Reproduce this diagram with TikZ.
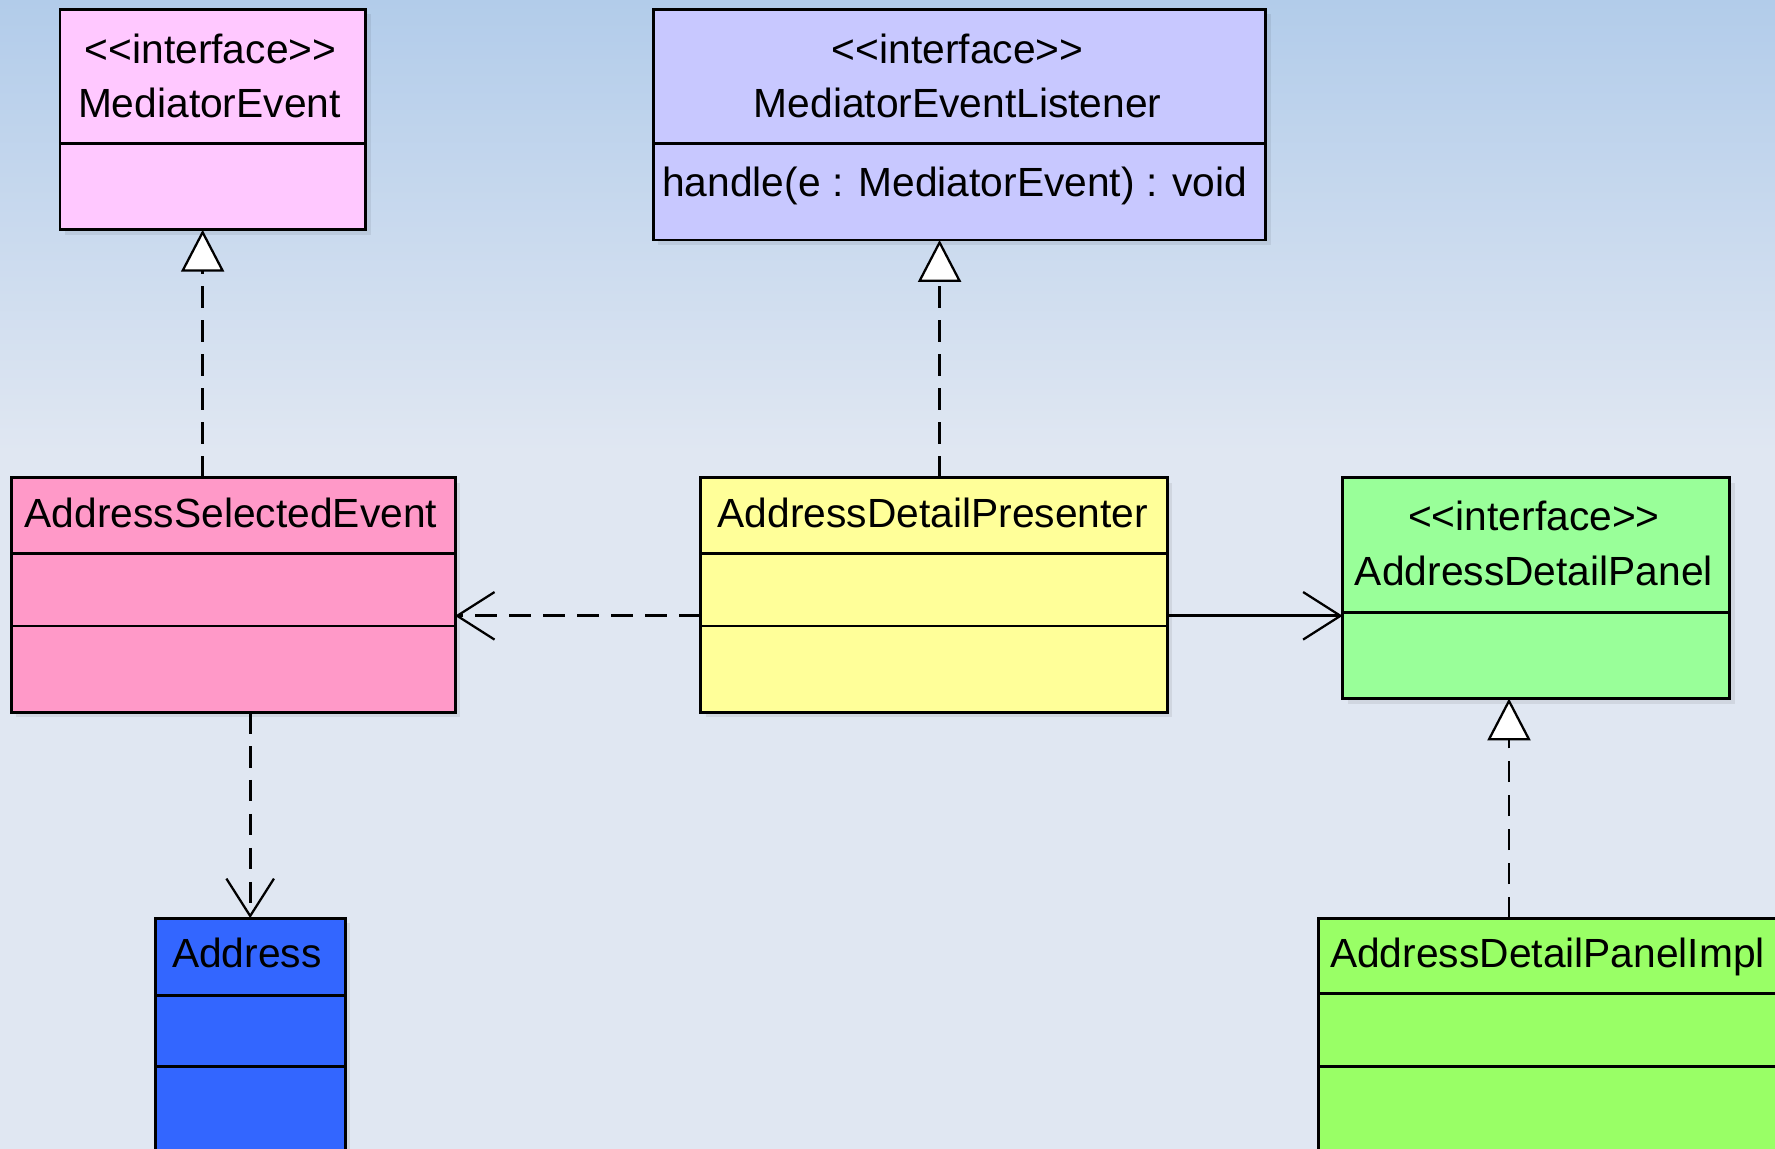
\documentclass[tikz,border=0pt]{standalone}
\usepackage{fontspec}
\setmainfont{Liberation Sans}[Ligatures=TeXOff]
\usetikzlibrary{arrows.meta,calc,shadows}

\definecolor{bgtop}{RGB}{178,204,234}
\definecolor{bgbot}{RGB}{224,231,242}
\definecolor{cMedEvt}{RGB}{255,200,255}
\definecolor{cMedLst}{RGB}{200,200,255}
\definecolor{cSelEvt}{RGB}{255,153,200}
\definecolor{cPresenter}{RGB}{255,255,153}
\definecolor{cPanel}{RGB}{153,255,153}
\definecolor{cAddress}{RGB}{51,102,255}
\definecolor{cImpl}{RGB}{153,255,102}

\tikzset{
  umlbox/.style={draw=black, line width=2.6pt, anchor=north west,
    inner sep=0pt, outer sep=0pt,
    drop shadow={shadow xshift=4.5pt, shadow yshift=-4.5pt, fill=black, opacity=0.07}},
  divider/.style={draw=black, line width=2.6pt},
  txt/.style={inner sep=0pt, outer sep=0pt, anchor=base},
  dashpat/.style={line width=2.4pt, dash pattern=on 19pt off 11pt},
  realize/.style={dashpat, -{Triangle[length=37pt, width=38pt, fill=white, line width=2pt]}},
  depend/.style={dashpat, -{Straight Barb[length=33pt, width=42pt, line width=2pt]}},
  assoc/.style={line width=2.4pt, -{Straight Barb[length=33pt, width=42pt, line width=2pt]}}
}

\begin{document}
\begin{tikzpicture}[x=1pt, y=-1pt, font=\fontsize{36}{43}\selectfont]
  % canvas and background
  \clip (0,0) rectangle (1568,1015);
  \shade[top color=bgtop, bottom color=bgbot] (0,0) rectangle (1568,400);
  \fill[bgbot] (0,399) rectangle (1568,1015);

  % class boxes
  \node[umlbox, fill=cMedEvt, minimum width=270pt, minimum height=195pt] (me) at (53,8) {};
  \node[umlbox, fill=cMedLst, minimum width=541pt, minimum height=204pt] (mel) at (577,8) {};
  \node[umlbox, fill=cSelEvt, minimum width=392pt, minimum height=207pt] (ase) at (10,422) {};
  \node[umlbox, fill=cPresenter, minimum width=412pt, minimum height=207pt] (adp) at (619,422) {};
  \node[umlbox, fill=cPanel, minimum width=342pt, minimum height=195pt] (pnl) at (1186,422) {};
  \node[umlbox, fill=cAddress, minimum width=168pt, minimum height=260pt] (addr) at (137,811) {};
  \node[umlbox, fill=cImpl, minimum width=450pt, minimum height=260pt] (impl) at (1165,811) {};

  % compartment separators
  \draw[divider] ($(me.north west)+(0,119)$) -- ($(me.north east)+(0,119)$);
  \draw[divider] ($(mel.north west)+(0,119)$) -- ($(mel.north east)+(0,119)$);
  \draw[divider] ($(ase.north west)+(0,67)$) -- ($(ase.north east)+(0,67)$);
  \draw[divider] ($(ase.north west)+(0,131)$) -- ($(ase.north east)+(0,131)$);
  \draw[divider] ($(adp.north west)+(0,67)$) -- ($(adp.north east)+(0,67)$);
  \draw[divider] ($(adp.north west)+(0,131)$) -- ($(adp.north east)+(0,131)$);
  \draw[divider] ($(pnl.north west)+(0,119)$) -- ($(pnl.north east)+(0,119)$);
  \draw[divider] ($(addr.north west)+(0,68)$) -- ($(addr.north east)+(0,68)$);
  \draw[divider] ($(addr.north west)+(0,131)$) -- ($(addr.north east)+(0,131)$);
  \draw[divider] ($(impl.north west)+(0,67)$) -- ($(impl.north east)+(0,67)$);
  \draw[divider] ($(impl.north west)+(0,131)$) -- ($(impl.north east)+(0,131)$);

  % class texts
  \node[txt] (me-st) at (186,56) {<<interface>>};
  \node[txt] (me-nm) at (185,104) {MediatorEvent};
  \node[txt] (mel-st) at (846,56) {<<interface>>};
  \node[txt] (mel-nm) at (846,104) {MediatorEventListener};
  \node[txt, anchor=base west] (mel-op) at (585,174) {handle(e : MediatorEvent) : void};
  \node[txt] (ase-nm) at (204,466) {AddressSelectedEvent};
  \node[txt] (adp-nm) at (824,466) {AddressDetailPresenter};
  \node[txt] (pnl-st) at (1355,469) {<<interface>>};
  \node[txt] (pnl-nm) at (1355,517) {AddressDetailPanel};
  \node[txt] (addr-nm) at (218,855) {Address};
  \node[txt, anchor=base west] (impl-nm) at (1175,855) {AddressDetailPanelImpl};

  % relations
  \draw[realize] ([xshift=-27pt]ase.north) -- ([xshift=-9pt]me.south);
  \draw[realize] ([xshift=5pt]adp.north) -- ([xshift=-17.5pt]mel.south);
  \draw[realize] ([xshift=-57pt]impl.north) -- ([xshift=-24pt]pnl.south);
  \draw[depend] ([yshift=-18.5pt]adp.west) -- ([yshift=-18.5pt]ase.east);
  \draw[depend] ([xshift=15pt]ase.south) -- (addr.north);
  \draw[assoc] ([yshift=-18.5pt]adp.east) -- ([yshift=-24.5pt]pnl.west);
\end{tikzpicture}
\end{document}
